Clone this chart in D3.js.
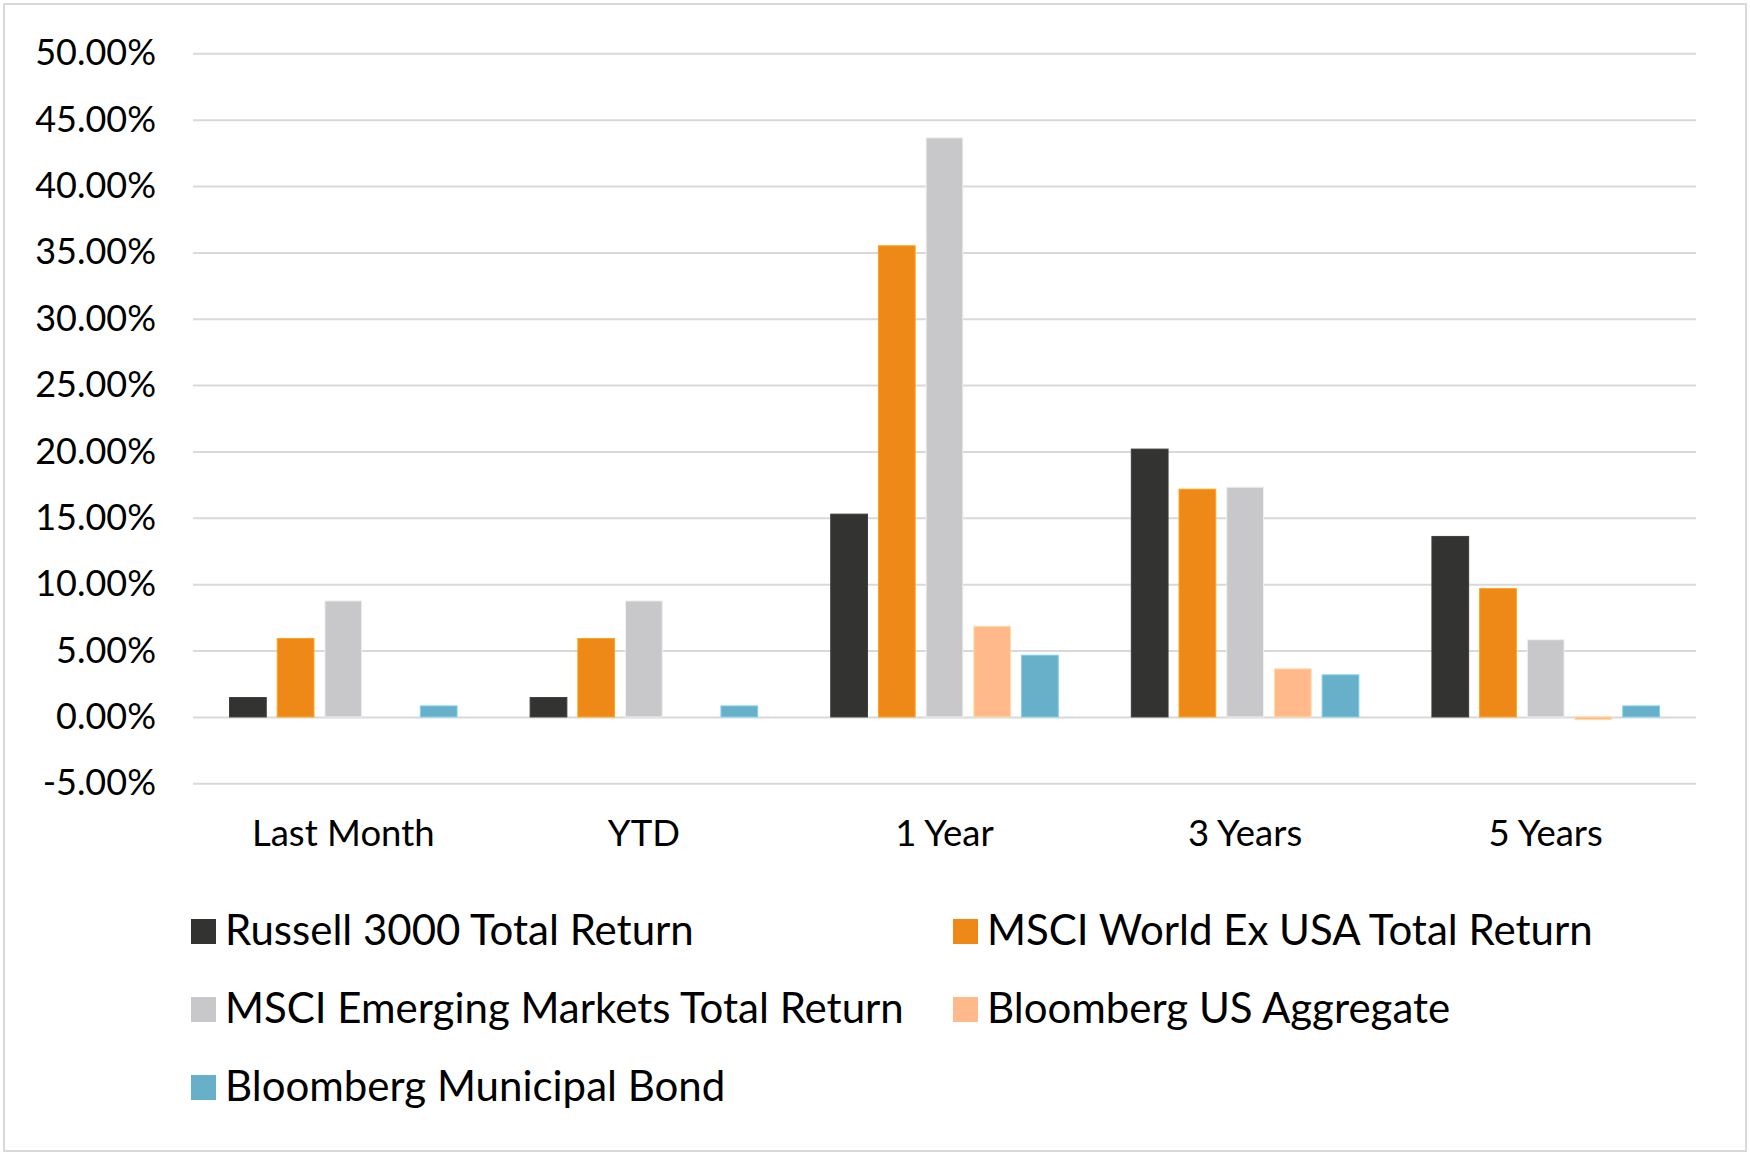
<!DOCTYPE html>
<html>
  <head>
    <meta charset="utf-8">
    <title>Index Returns</title>
    <script src="https://d3js.org/d3.v7.min.js"></script>
    <style>
      body { margin: 0; background: #fff; }
      text { font-family: Lato, "Noto Sans", sans-serif; fill: #000; }
      .axis-y text { font-size: 36px; }
      .axis-x text { font-size: 36.5px; }
      .legend text { font-size: 42px; }
      .grid line { stroke: #d9d9d9; stroke-width: 2; }
    </style>
  </head>
  <body>
    <svg width="1750" height="1155"></svg>
    <script>
      var categories = ["Last Month", "YTD", "1 Year", "3 Years", "5 Years"];

      var seriesNames = [
        "Russell 3000 Total Return",
        "MSCI World Ex USA Total Return",
        "MSCI Emerging Markets Total Return",
        "Bloomberg US Aggregate",
        "Bloomberg Municipal Bond"
      ];

      var seriesColors = ["#333331", "#ee8817", "#c8c8ca", "#ffb98a", "#68afc9"];

      // percent values
      var russell3000 = [1.46, 1.46, 15.28, 20.18, 13.60];
      var msciWorldExUsa = [5.91, 5.91, 35.50, 17.16, 9.67];
      var msciEmerging = [8.74, 8.74, 43.63, 17.31, 5.82];
      var bbgAggregate = [0.00, 0.00, 6.83, 3.62, -0.20];
      var bbgMunicipal = [0.83, 0.83, 4.65, 3.17, 0.83];

      var yTicks = [-5, 0, 5, 10, 15, 20, 25, 30, 35, 40, 45, 50];

      var seriesValues = [russell3000, msciWorldExUsa, msciEmerging, bbgAggregate, bbgMunicipal];

      var plot = {left: 193, right: 1696, top: 53.3, bottom: 783.3};

      var svg = d3.select("svg");

      // outer frame
      svg.append("rect")
          .attr("x", 4).attr("y", 4)
          .attr("width", 1742).attr("height", 1147)
          .attr("fill", "none")
          .attr("stroke", "#d9d9d9")
          .attr("stroke-width", 2);

      var x0 = d3.scaleBand()
          .domain(categories)
          .range([plot.left, plot.right])
          .paddingInner(0.243)
          .paddingOuter(0.1215);

      var x1 = d3.scaleBand()
          .domain(d3.range(seriesNames.length))
          .range([0, x0.bandwidth()])
          .paddingInner(0.23);

      var y = d3.scaleLinear()
          .domain([-5, 50])
          .range([plot.bottom, plot.top]);

      // gridlines + y labels
      var yAxis = svg.append("g")
          .attr("class", "axis-y grid")
          .attr("transform", "translate(" + plot.left + ",0)")
          .call(d3.axisLeft(y)
              .tickValues(yTicks)
              .tickSize(-(plot.right - plot.left))
              .tickFormat(function(d) { return d.toFixed(2) + "%"; }));

      yAxis.select(".domain").remove();
      yAxis.selectAll("text")
          .attr("x", -37)
          .attr("dy", "0.32em");

      // category labels
      var xAxis = svg.append("g")
          .attr("class", "axis-x")
          .attr("transform", "translate(0," + plot.bottom + ")")
          .call(d3.axisBottom(x0).tickSize(0));

      xAxis.select(".domain").remove();
      xAxis.selectAll("text")
          .attr("y", 63)
          .attr("dy", 0);

      // bars
      var groups = svg.selectAll(".group")
          .data(categories)
          .enter().append("g")
          .attr("class", "group")
          .attr("transform", function(d) { return "translate(" + x0(d) + ",0)"; });

      groups.selectAll("rect")
          .data(function(d, ci) {
            return seriesValues.map(function(vals, si) { return {s: si, v: vals[ci]}; });
          })
          .enter().append("rect")
          .attr("x", function(d) { return x1(d.s); })
          .attr("width", x1.bandwidth())
          .attr("y", function(d) { return y(Math.max(0, d.v)); })
          .attr("height", function(d) { return Math.abs(y(d.v) - y(0)); })
          .attr("fill", function(d) { return seriesColors[d.s]; })
          .attr("stroke", function(d) { return d.v === 0 ? "none" : d3.color(seriesColors[d.s]).brighter(0.5); })
          .attr("stroke-width", 1);

      // legend
      var legend = svg.append("g")
          .attr("class", "legend")
          .selectAll("g")
          .data(seriesNames)
          .enter().append("g")
          .attr("transform", function(d, i) {
            return "translate(" + (i % 2 === 0 ? 191 : 953) + "," + (919 + Math.floor(i / 2) * 78) + ")";
          });

      legend.append("rect")
          .attr("width", 25)
          .attr("height", 25)
          .attr("fill", function(d, i) { return seriesColors[i]; });

      legend.append("text")
          .attr("x", 34)
          .attr("y", 26)
          .text(function(d) { return d; });
    </script>
  </body>
</html>
